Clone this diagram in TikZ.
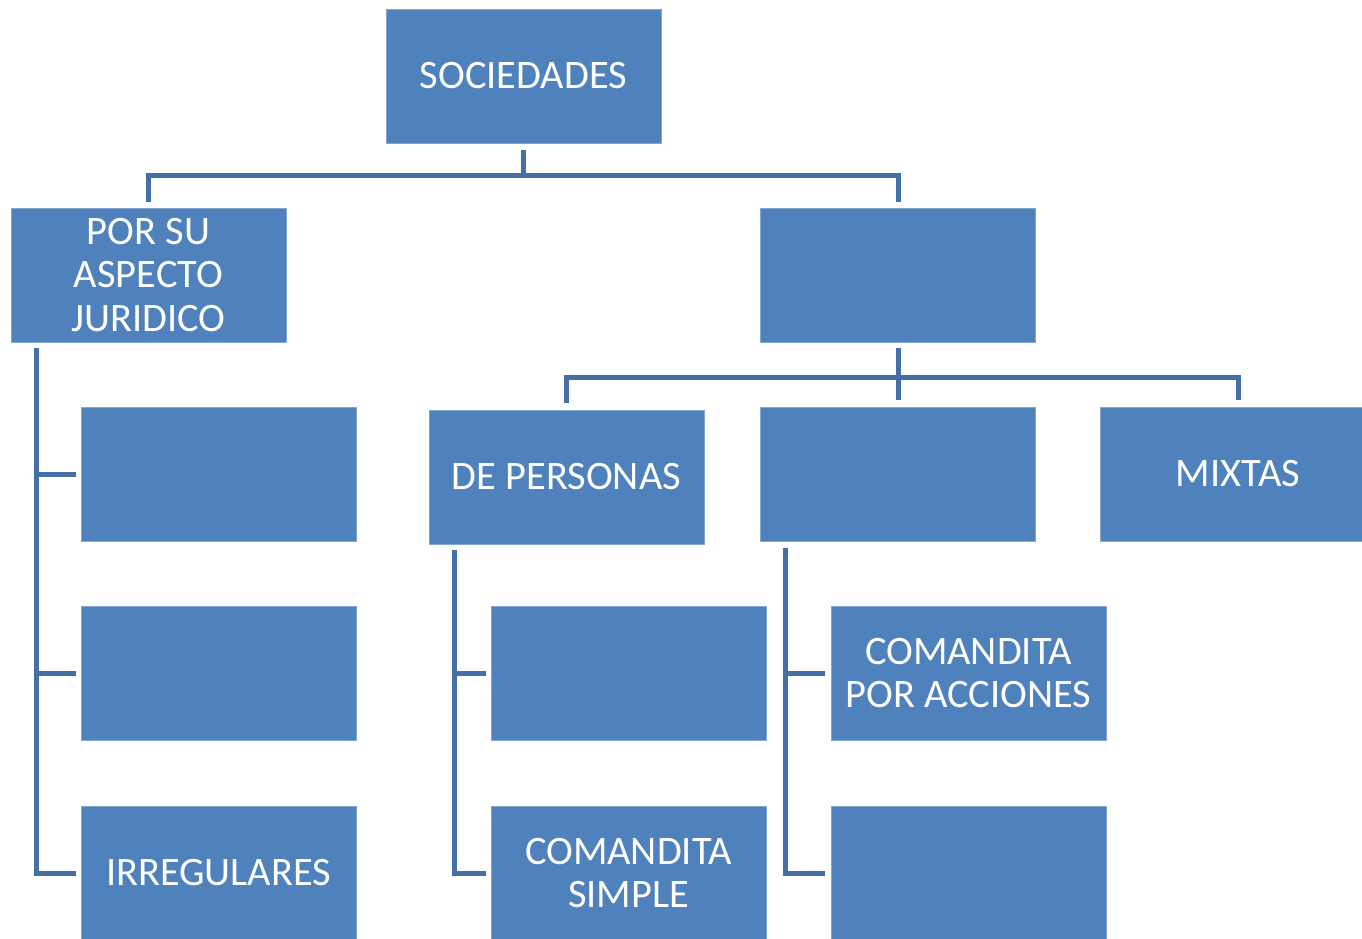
\documentclass[tikz,border=0pt]{standalone}
\usepackage{fontspec}
\setmainfont{Carlito}
\definecolor{boxblue}{RGB}{79,129,189}
\definecolor{lineblue}{RGB}{68,112,165}
\tikzset{
every picture/.style={x=0.02cm, y=-0.02cm}
}
\tikzset{
  box/.style={fill=boxblue, draw=boxblue!70!white, line width=0.4pt,
    minimum width=5.5cm, minimum height=2.68cm, inner sep=0pt,
    text=white, align=center, font=\fontsize{23}{25}\selectfont},
  conn/.style={draw=lineblue, line width=0.1cm}
}
\begin{document}
\begin{tikzpicture}
  \useasboundingbox (0,0) rectangle (1362,938);
  \clip (0,0) rectangle (1362,938);
  % levels
  \node[box] (soc) at (523.5,76) {SOCIEDADES};
  \node[box] (psaj) at (148.5,275) {POR SU\\ASPECTO\\JURIDICO};
  \node[box] (clas) at (898,275) {};
  \node[box] (pj1) at (218.5,474) {};
  \node[box] (pj2) at (218.5,673) {};
  \node[box] (irr) at (218.5,873) {IRREGULARES};
  \node[box] (dep) at (566.5,477) {DE PERSONAS};
  \node[box] (mid) at (898,474) {};
  \node[box] (mix) at (1238,474) {MIXTAS};
  \node[box] (dp1) at (628.5,673) {};
  \node[box] (cs) at (628.5,873) {COMANDITA\\SIMPLE};
  \node[box] (cpa) at (968.5,673) {COMANDITA\\POR ACCIONES};
  \node[box] (ca2) at (968.5,873) {};
  % connectors
  \draw[conn] ([shift={(0,7)}]soc.south) -- ++(0,25) -| ([shift={(0,-6)}]psaj.north);
  \draw[conn] ([shift={(0,32)}]soc.south) -| ([shift={(0,-6)}]clas.north);
  \draw[conn] ([shift={(0,6)}]clas.south) -- ([shift={(0,-7)}]mid.north);
  \draw[conn] ([shift={(0,35)}]clas.south) -| ([shift={(0,-7)}]dep.north);
  \draw[conn] ([shift={(0,35)}]clas.south) -| ([shift={(0,-7)}]mix.north);
  \foreach \c in {pj1,pj2,irr} {
    \draw[conn] ([shift={(26,6)}]psaj.south west) |- ([shift={(-5,0)}]\c.west);
  }
  \foreach \c in {dp1,cs} {
    \draw[conn] ([shift={(26,6)}]dep.south west) |- ([shift={(-5,0)}]\c.west);
  }
  \foreach \c in {cpa,ca2} {
    \draw[conn] ([shift={(25,7)}]mid.south west) |- ([shift={(-6,0)}]\c.west);
  }
\end{tikzpicture}
\end{document}
